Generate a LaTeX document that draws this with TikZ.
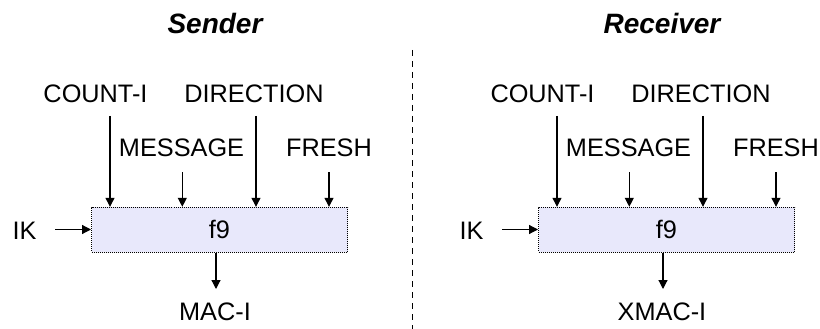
\documentclass[tikz,border=0pt]{standalone}
\usepackage{fontspec}
\setmainfont{Liberation Sans}
\usetikzlibrary{arrows.meta}
\definecolor{boxfill}{HTML}{E8E8FB}
\begin{document}
\begin{tikzpicture}[x=1pt,y=-1pt,
  lbl/.style={font=\fontsize{25.3}{30}\selectfont, inner sep=0pt},
  ttl/.style={font=\fontsize{28}{33}\selectfont\bfseries\itshape, inner sep=0pt},
  fbox/.style={draw, fill=boxfill, line width=1pt, dash pattern=on 1pt off 1pt,
    minimum width=256pt, minimum height=45pt, inner sep=0pt,
    font=\fontsize{25.3}{30}\selectfont},
  feed/.style={line width=1.2pt, -{Triangle[length=9pt,width=9pt]}},
  divider/.style={line width=1.7pt, dash pattern=on 6pt off 5pt}]
\useasboundingbox (0,0) rectangle (820,329);

% one f9 block per side: sender on the left, receiver on the right
\foreach \side/\dx/\who/\out in {s/0/Sender/MAC-I, r/447/Receiver/XMAC-I}{
  \begin{scope}[xshift=\dx pt]
    \node[ttl] (\side-title) at (215,23) {\who};
    \node[fbox] (\side-box) at (219.5,229.8) {f9};
    \node[lbl] (\side-count) at (95.5,94) {COUNT-I};
    \node[lbl] (\side-dir) at (254,94) {DIRECTION};
    \node[lbl] (\side-msg) at (181.5,147.5) {MESSAGE};
    \node[lbl] (\side-fresh) at (329,147.5) {FRESH};
    \node[lbl] (\side-ik) at (24.5,230.5) {IK};
    \node[lbl] (\side-out) at (215,312) {\out};
    \coordinate (\side-countsrc) at (110,116);
    \coordinate (\side-msgsrc) at (182.3,172);
    \coordinate (\side-dirsrc) at (256,116);
    \coordinate (\side-freshsrc) at (329,172);
    \coordinate (\side-iksrc) at (55,229.5);
    \coordinate (\side-outtap) at (216,252);
    \coordinate (\side-outend) at (216,289);
    \draw[feed] (\side-countsrc) -- (\side-countsrc |- \side-box.north);
    \draw[feed] (\side-msgsrc) -- (\side-msgsrc |- \side-box.north);
    \draw[feed] (\side-dirsrc) -- (\side-dirsrc |- \side-box.north);
    \draw[feed] (\side-freshsrc) -- (\side-freshsrc |- \side-box.north);
    \draw[feed] (\side-iksrc) -- (\side-iksrc -| \side-box.west);
    \draw[feed] (\side-outtap |- \side-box.south) -- (\side-outend);
  \end{scope}
}

% separator between the two parties
\coordinate (divtop) at (412.5,50);
\coordinate (divbot) at (412.5,329);
\draw[divider] (divtop) -- (divbot);
\end{tikzpicture}
\end{document}
